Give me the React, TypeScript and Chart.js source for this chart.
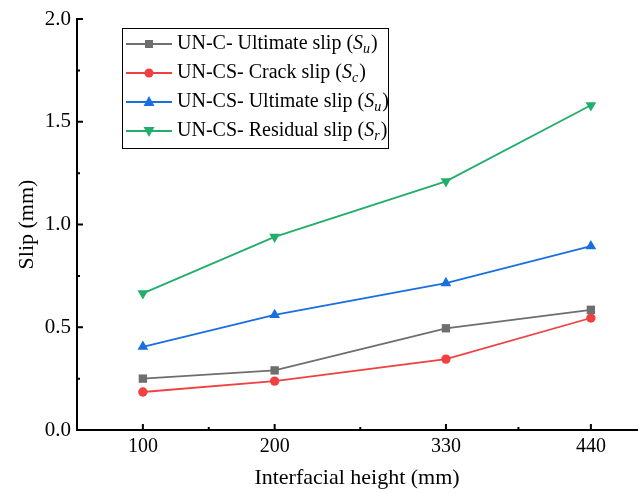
import React, { useEffect, useRef } from "react";
import { Chart, registerables } from "chart.js";

Chart.register(...registerables);

const heights = [100, 200, 330, 440];
const unCUltimate = [0.25, 0.29, 0.495, 0.585];
const unCSCrack = [0.185, 0.238, 0.345, 0.545];
const unCSUltimate = [0.405, 0.56, 0.715, 0.895];
const unCSResidual = [0.665, 0.94, 1.21, 1.58];

const yMajorTicks = [0, 0.5, 1.0, 1.5, 2.0];
const yMinorTicks = [0.25, 0.75, 1.25, 1.75];
const xMinorTicks = [150, 265, 385];

const FONT = "'Liberation Serif', 'Times New Roman', serif";

const colors = ["#6e6e6e", "#f14040", "#1a6fdf", "#23ad6b"];
const markers = ["rect", "circle", "triangle", "triangleDown"];
const legendParts: Array<[string, string]> = [
  ["UN-C- Ultimate slip (", "u"],
  ["UN-CS- Crack slip (", "c"],
  ["UN-CS- Ultimate slip (", "u"],
  ["UN-CS- Residual slip (", "r"],
];

function drawMarker(ctx: CanvasRenderingContext2D, kind: string, x: number, y: number, color: string) {
  ctx.save();
  ctx.fillStyle = color;
  ctx.beginPath();
  if (kind === "rect") {
    ctx.rect(x - 4, y - 4, 8, 8);
  } else if (kind === "circle") {
    ctx.arc(x, y, 4.5, 0, Math.PI * 2);
  } else if (kind === "triangle") {
    ctx.moveTo(x, y - 6);
    ctx.lineTo(x + 5.5, y + 4);
    ctx.lineTo(x - 5.5, y + 4);
    ctx.closePath();
  } else {
    ctx.moveTo(x, y + 6);
    ctx.lineTo(x + 5.5, y - 4);
    ctx.lineTo(x - 5.5, y - 4);
    ctx.closePath();
  }
  ctx.fill();
  ctx.restore();
}

const ticksPlugin = {
  id: "insideTicks",
  afterDraw(chart: any) {
    const ctx = chart.ctx as CanvasRenderingContext2D;
    const xs = chart.scales.x;
    const ys = chart.scales.y;
    const left = chart.chartArea.left;
    const bottom = chart.chartArea.bottom;
    ctx.save();
    ctx.strokeStyle = "#000";
    ctx.lineWidth = 2;
    ctx.beginPath();
    yMajorTicks.forEach((v) => {
      const p = ys.getPixelForValue(v);
      ctx.moveTo(left, p);
      ctx.lineTo(left + 6, p);
    });
    heights.forEach((v) => {
      const p = xs.getPixelForValue(v);
      ctx.moveTo(p, bottom);
      ctx.lineTo(p, bottom - 6);
    });
    ctx.stroke();
    ctx.beginPath();
    yMinorTicks.forEach((v) => {
      const p = ys.getPixelForValue(v);
      ctx.moveTo(left, p);
      ctx.lineTo(left + 3, p);
    });
    xMinorTicks.forEach((v) => {
      const p = xs.getPixelForValue(v);
      ctx.moveTo(p, bottom);
      ctx.lineTo(p, bottom - 3);
    });
    ctx.stroke();
    ctx.restore();
  },
};

const legendPlugin = {
  id: "customLegend",
  afterDraw(chart: any) {
    const ctx = chart.ctx as CanvasRenderingContext2D;
    ctx.save();
    ctx.strokeStyle = "#000";
    ctx.lineWidth = 1;
    ctx.strokeRect(122.5, 28.5, 266, 120);
    legendParts.forEach((parts, i) => {
      const y = 44 + i * 29;
      const color = colors[i];
      ctx.strokeStyle = color;
      ctx.lineWidth = 2;
      ctx.beginPath();
      ctx.moveTo(126, y);
      ctx.lineTo(172, y);
      ctx.stroke();
      drawMarker(ctx, markers[i], 149, y, color);
      ctx.fillStyle = "#000";
      ctx.textBaseline = "middle";
      ctx.textAlign = "left";
      let x = 177;
      ctx.font = `20px ${FONT}`;
      ctx.fillText(parts[0], x, y);
      x += ctx.measureText(parts[0]).width;
      ctx.font = `italic 20px ${FONT}`;
      ctx.fillText("S", x, y);
      x += ctx.measureText("S").width;
      ctx.font = `italic 14px ${FONT}`;
      ctx.fillText(parts[1], x, y + 5);
      x += ctx.measureText(parts[1]).width + 1;
      ctx.font = `20px ${FONT}`;
      ctx.fillText(")", x, y);
    });
    ctx.restore();
  },
};

export default function App() {
  const ref = useRef<HTMLCanvasElement | null>(null);
  useEffect(() => {
    if (!ref.current) return;
    const series = [unCUltimate, unCSCrack, unCSUltimate, unCSResidual];
    const labels = ["UN-C- Ultimate slip (Su)", "UN-CS- Crack slip (Sc)", "UN-CS- Ultimate slip (Su)", "UN-CS- Residual slip (Sr)"];
    const styles = ["rect", "circle", "triangle", "triangle"];
    const radii = [5.9, 4.7, 6.2, 6.2];
    const rotations = [0, 0, 0, 180];
    const chart = new Chart(ref.current, {
      type: "line",
      data: {
        datasets: series.map((vals, i) => ({
          label: labels[i],
          data: vals.map((v, j) => ({ x: heights[j], y: v })),
          borderColor: colors[i],
          backgroundColor: colors[i],
          pointBackgroundColor: colors[i],
          pointBorderColor: colors[i],
          pointBorderWidth: 0,
          borderWidth: 1.8,
          pointStyle: styles[i] as any,
          pointRadius: radii[i],
          pointRotation: rotations[i],
          tension: 0,
          fill: false,
        })),
      },
      plugins: [ticksPlugin, legendPlugin],
      options: {
        animation: false,
        responsive: false,
        maintainAspectRatio: false,
        devicePixelRatio: 1,
        layout: { autoPadding: false, padding: { top: 19, right: 1, left: 0, bottom: 0 } },
        plugins: {
          legend: { display: false },
          tooltip: { enabled: false },
        },
        scales: {
          x: {
            type: "linear",
            min: 50,
            max: 475,
            afterBuildTicks: (scale: any) => {
              scale.ticks = heights.map((v) => ({ value: v }));
            },
            afterFit: (scale: any) => {
              scale.height = 63;
              scale.paddingRight = 0;
              scale.paddingLeft = 0;
            },
            grid: { display: false, drawTicks: false },
            border: { display: true, color: "#000", width: 2 },
            ticks: {
              color: "#000",
              font: { family: FONT, size: 20 },
              padding: 5,
              maxRotation: 0,
              autoSkip: false,
            },
            title: {
              display: true,
              text: "Interfacial height (mm)",
              color: "#000",
              font: { family: FONT, size: 22 },
              padding: { top: 0, bottom: 2 },
            },
          },
          y: {
            type: "linear",
            min: 0,
            max: 2,
            afterBuildTicks: (scale: any) => {
              scale.ticks = yMajorTicks.map((v) => ({ value: v }));
            },
            afterFit: (scale: any) => {
              scale.width = 77;
            },
            grid: { display: false, drawTicks: false },
            border: { display: true, color: "#000", width: 2 },
            ticks: {
              color: "#000",
              font: { family: FONT, size: 21 },
              padding: 6,
              callback: (v: any) => Number(v).toFixed(1),
            },
            title: {
              display: true,
              text: "Slip (mm)",
              color: "#000",
              font: { family: FONT, size: 22 },
              padding: { top: 14, bottom: 0 },
            },
          },
        },
      },
    });
    return () => chart.destroy();
  }, []);
  return (
    <div style={{ position: "fixed", left: 0, top: 0, width: 638, height: 493, background: "#fff" }}>
      <canvas ref={ref} width={638} height={493} style={{ display: "block", width: 638, height: 493 }} />
    </div>
  );
}
